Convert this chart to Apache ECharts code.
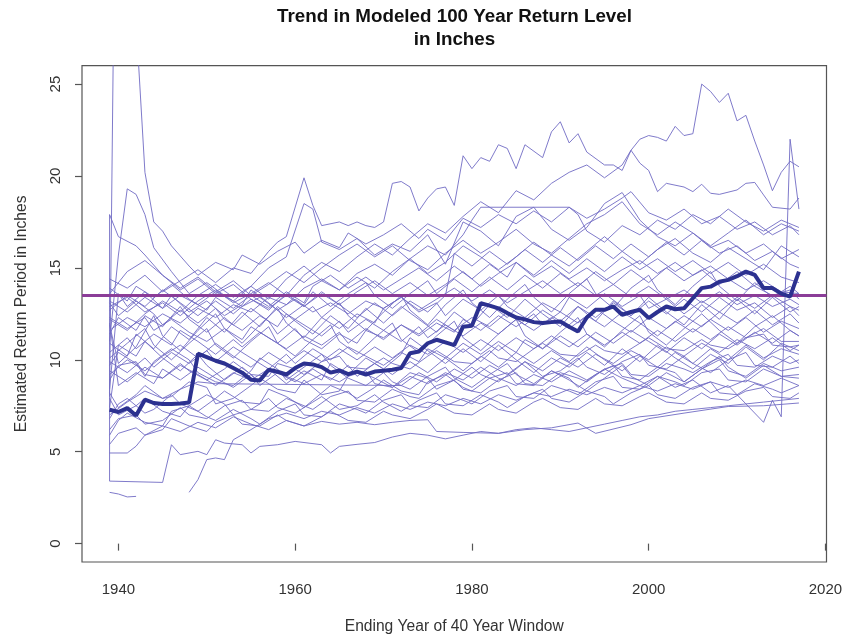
<!DOCTYPE html>
<html><head><meta charset="utf-8">
<script src="https://cdn.jsdelivr.net/npm/echarts@6/dist/echarts.min.js"></script>
<style>html,body{margin:0;padding:0;background:#fff;overflow:hidden}#c{width:842px;height:636px}</style>
</head><body><div id="c"></div>
<script>
const xTicks = [1940, 1960, 1980, 2000, 2020];
const yTicks = [0, 5, 10, 15, 20, 25];
const thresholdValue = 13.53;
const years = [1939,1940,1941,1942,1943,1944,1945,1946,1947,1948,1949,1950,1951,1952,1953,1954,1955,1956,1957,1958,1959,1960,1961,1962,1963,1964,1965,1966,1967,1968,1969,1970,1971,1972,1973,1974,1975,1976,1977,1978,1979,1980,1981,1982,1983,1984,1985,1986,1987,1988,1989,1990,1991,1992,1993,1994,1995,1996,1997,1998,1999,2000,2001,2002,2003,2004,2005,2006,2007,2008,2009,2010,2011,2012,2013,2014,2015,2016,2017];
const meanValues = [7.28,7.16,7.37,6.97,7.83,7.65,7.6,7.6,7.62,7.68,10.33,10.15,9.95,9.8,9.55,9.3,8.92,8.88,9.46,9.35,9.2,9.55,9.8,9.75,9.6,9.3,9.42,9.22,9.36,9.2,9.36,9.4,9.46,9.55,10.36,10.45,10.9,11.09,10.95,10.8,11.8,11.85,13.08,12.95,12.8,12.54,12.3,12.2,12.05,12.0,12.05,12.08,11.8,11.54,12.3,12.72,12.72,12.9,12.45,12.6,12.72,12.27,12.6,12.9,12.75,12.8,13.35,13.9,13.98,14.25,14.35,14.55,14.8,14.62,13.9,13.9,13.6,13.44,14.8];

const t01 = [[1939,8.0],[1940,53],[1941,40],[1942,28.4],[1943,20.2],[1944,17.5],[1945,17.0],[1946,16.2],[1948,15.1],[1949,14.6],[1951,15.3],[1953,14.9],[1954,15.7],[1956,15.2],[1958,15.9],[1960,16.4],[1961,15.8],[1963,16.5],[1965,16.1],[1966,16.9],[1968,16.3],[1970,16.8],[1972,17.4],[1974,16.6],[1975,17.1],[1977,16.5],[1979,17.7],[1981,17.2],[1983,17.9],[1985,17.4],[1987,18.1],[1989,17.5],[1991,18.3],[1993,17.7],[1995,18.2],[1997,18.8],[1998,19.15],[2000,18.0],[2002,17.6],[2004,18.2],[2006,17.4],[2008,17.8],[2010,17.1],[2012,17.5],[2014,16.8],[2016,17.3],[2017,16.8]];
const t02 = [[1939,14.4],[1941,13.9],[1943,14.6],[1945,13.7],[1947,14.3],[1949,14.9],[1951,14.2],[1953,15.0],[1955,14.7],[1957,15.9],[1958,16.4],[1959,16.7],[1961,19.9],[1962,18.4],[1963,17.3],[1965,17.5],[1966,17.3],[1967,17.5],[1968,17.3],[1969,17.2],[1970,17.5],[1971,19.6],[1972,19.7],[1973,19.4],[1974,18.1],[1975,18.8],[1976,19.3],[1977,19.4],[1978,18.4],[1979,21.1],[1980,20.4],[1981,21.0],[1982,20.8],[1983,21.7],[1984,21.5],[1985,20.4],[1986,21.7],[1988,21.0],[1989,22.4],[1990,22.95],[1991,21.8],[1992,22.3],[1993,21.3],[1995,20.6],[1996,20.6],[1997,20.3],[1998,21.4],[1999,22.0],[2000,22.2],[2001,22.1],[2002,21.9],[2003,22.7],[2004,22.2],[2005,22.3],[2006,25.0],[2007,24.6],[2008,24.0],[2009,24.5],[2010,23.0],[2011,23.3],[2012,21.9],[2013,20.6],[2014,19.2],[2015,20.2],[2016,20.8],[2017,20.5]];
const t03 = [[1939,12.9],[1941,13.4],[1943,12.6],[1945,13.1],[1947,12.4],[1949,13.2],[1951,13.8],[1953,13.1],[1955,13.6],[1957,14.2],[1959,13.5],[1961,14.6],[1963,15.3],[1965,14.8],[1967,15.6],[1969,16.3],[1971,15.7],[1973,16.6],[1975,17.4],[1977,16.9],[1979,17.8],[1981,18.6],[1983,18.0],[1985,19.2],[1987,18.7],[1989,19.6],[1991,20.2],[1993,20.6],[1995,19.9],[1997,20.6],[1998,21.4],[1999,20.7],[2000,20.3],[2001,19.15],[2002,19.6],[2004,19.4],[2005,19.15],[2006,19.55],[2007,19.06],[2008,19.0],[2010,19.24],[2011,19.6],[2012,19.65],[2013,18.97],[2014,18.3],[2016,18.2],[2017,18.8]];
const t04 = [[1939,11.6],[1941,12.3],[1943,11.8],[1945,12.5],[1947,12.0],[1949,12.8],[1951,12.3],[1953,13.0],[1955,12.6],[1957,13.4],[1959,13.0],[1961,13.9],[1963,14.4],[1965,13.8],[1967,14.7],[1969,15.2],[1971,14.6],[1973,15.5],[1975,16.2],[1977,15.7],[1979,16.8],[1980,17.6],[1981,18.3],[1991,18.3],[1992,17.9],[1993,17.0],[1995,16.4],[1997,17.3],[1999,16.8],[2001,17.6],[2003,17.1],[2005,17.9],[2007,17.4],[2009,18.2],[2011,17.5],[2013,17.0],[2015,17.6],[2017,17.2]];
const t05 = [[1939,9.4],[1941,8.8],[1943,9.6],[1945,9.0],[1947,9.7],[1949,9.2],[1951,8.6],[1953,9.3],[1955,8.9],[1957,9.5],[1959,9.1],[1961,8.7],[1963,9.2],[1965,8.8],[1967,9.4],[1969,9.0],[1971,8.5],[1973,9.1],[1975,8.7],[1977,9.3],[1979,8.9],[1981,9.6],[1983,9.0],[1985,8.6],[1987,9.2],[1989,8.8],[1991,9.4],[1993,8.9],[1995,9.5],[1997,9.0],[1999,8.6],[2001,9.1],[2003,8.5],[2005,8.9],[2007,8.2],[2009,8.6],[2011,7.6],[2013,6.6],[2014,7.8],[2015,6.9],[2016,22.0],[2017,18.2]];
const t06 = [[1939,13.6],[1941,14.8],[1943,15.4],[1945,14.6],[1947,13.9],[1949,14.5],[1951,13.7],[1953,14.3],[1955,13.5],[1957,14.1],[1959,14.8],[1961,14.2],[1963,15.0],[1965,15.7],[1967,16.3],[1969,15.6],[1971,16.2],[1973,15.4],[1975,14.9],[1977,15.8],[1979,16.5],[1981,15.8],[1983,16.4],[1985,17.1],[1987,16.3],[1989,15.8],[1991,16.6],[1993,17.4],[1995,17.9],[1997,18.6],[1999,17.4],[2001,16.8],[2003,17.5],[2005,16.9],[2007,16.2],[2009,16.9],[2011,17.6],[2013,16.8],[2015,17.4],[2017,17.0]];
const t07 = [[1939,12.2],[1941,11.6],[1943,12.5],[1945,13.2],[1947,12.6],[1949,13.5],[1951,14.1],[1953,13.4],[1955,14.0],[1957,13.3],[1959,14.4],[1961,15.1],[1963,14.3],[1965,13.8],[1967,14.5],[1969,13.9],[1971,14.8],[1973,15.5],[1975,14.7],[1977,15.3],[1979,16.2],[1981,15.6],[1983,14.9],[1985,15.6],[1987,16.4],[1989,15.7],[1991,15.1],[1993,15.9],[1995,16.7],[1997,15.9],[1999,15.2],[2001,16.0],[2003,16.6],[2005,15.8],[2007,15.3],[2009,16.1],[2011,15.5],[2013,14.9],[2015,16.2],[2017,15.6]];
const t08 = [[1939,17.9],[1940,16.7],[1942,16.2],[1943,15.7],[1945,14.6],[1947,13.8],[1949,14.4],[1951,13.6],[1953,14.1],[1955,13.3],[1957,12.8],[1959,13.5],[1961,12.9],[1963,13.6],[1965,13.0],[1967,13.7],[1969,14.3],[1971,13.6],[1973,14.2],[1975,13.5],[1977,14.1],[1979,14.8],[1981,14.0],[1983,14.7],[1985,15.3],[1987,14.5],[1989,15.1],[1991,14.4],[1993,15.0],[1995,14.3],[1997,14.9],[1999,15.4],[2001,14.7],[2003,15.3],[2005,14.6],[2007,15.1],[2009,14.4],[2011,13.8],[2013,14.3],[2015,13.7],[2017,13.6]];
const t09 = [[1939,11.0],[1940,15.7],[1941,19.3],[1942,19.0],[1943,17.9],[1944,16.1],[1946,14.8],[1948,13.6],[1950,14.2],[1952,13.5],[1954,12.9],[1956,13.4],[1958,12.7],[1960,13.3],[1962,12.6],[1964,13.1],[1966,12.5],[1968,13.2],[1970,12.8],[1972,13.4],[1974,12.7],[1976,13.3],[1978,13.9],[1980,13.2],[1982,13.8],[1984,13.1],[1986,13.7],[1988,14.3],[1990,13.6],[1992,14.2],[1994,13.5],[1996,14.1],[1998,13.4],[2000,14.0],[2002,13.3],[2004,13.8],[2006,13.1],[2008,13.7],[2010,13.0],[2012,13.5],[2014,12.9],[2016,13.3],[2017,13.0]];
const t10 = [[1939,11.4],[1940,12.3],[1942,11.6],[1943,12.4],[1945,11.8],[1947,12.9],[1948,12.2],[1950,11.5],[1952,12.3],[1953,11.9],[1955,12.8],[1957,12.1],[1958,11.4],[1960,12.2],[1962,12.9],[1963,12.3],[1965,11.7],[1967,12.5],[1969,12.0],[1970,12.8],[1972,13.4],[1974,12.6],[1976,13.1],[1977,12.4],[1979,13.3],[1981,12.7],[1983,13.5],[1984,12.9],[1986,12.3],[1988,13.1],[1990,12.6],[1991,13.4],[1993,12.8],[1995,13.6],[1997,12.9],[1999,13.5],[2000,12.8],[2002,13.3],[2004,12.5],[2006,13.2],[2008,12.6],[2010,13.4],[2012,12.8],[2014,13.5],[2016,12.9],[2017,12.7]];
const t11 = [[1939,10.4],[1941,11.2],[1942,10.6],[1944,11.4],[1946,10.8],[1947,11.6],[1949,11.0],[1951,10.3],[1953,11.1],[1954,10.7],[1956,11.5],[1958,10.9],[1960,11.7],[1961,11.1],[1963,10.6],[1965,11.4],[1967,10.9],[1968,11.6],[1970,11.2],[1972,11.9],[1974,11.3],[1976,12.0],[1978,11.5],[1979,12.2],[1981,11.6],[1983,12.4],[1985,11.8],[1987,12.5],[1988,11.9],[1990,12.6],[1992,12.0],[1994,12.8],[1996,12.1],[1998,11.5],[2000,12.3],[2002,11.7],[2004,12.4],[2006,11.8],[2008,12.6],[2010,12.0],[2012,12.7],[2014,11.9],[2016,12.5],[2017,12.0]];
const t12 = [[1939,13.1],[1940,12.4],[1942,13.2],[1944,12.5],[1945,11.9],[1947,12.7],[1949,12.0],[1951,12.8],[1952,12.2],[1954,11.6],[1956,12.4],[1958,11.8],[1959,12.5],[1961,11.9],[1963,11.3],[1965,12.1],[1966,11.5],[1968,12.2],[1970,11.6],[1972,11.0],[1974,11.8],[1975,11.2],[1977,11.9],[1979,11.3],[1981,12.0],[1983,11.4],[1985,12.2],[1987,11.6],[1989,12.3],[1991,11.7],[1993,12.4],[1995,11.8],[1997,12.6],[1999,12.0],[2001,11.3],[2003,12.1],[2005,11.5],[2007,12.2],[2009,11.6],[2011,12.3],[2013,11.5],[2015,12.1],[2017,11.7]];
const t13 = [[1939,9.9],[1941,9.3],[1943,10.1],[1944,9.6],[1946,10.4],[1948,9.8],[1950,10.5],[1951,9.9],[1953,10.7],[1955,10.1],[1957,9.5],[1959,10.3],[1960,9.8],[1962,10.6],[1964,10.0],[1966,10.7],[1968,10.2],[1970,9.7],[1972,10.4],[1974,9.9],[1975,10.6],[1977,10.1],[1979,10.9],[1981,10.3],[1983,11.0],[1985,10.4],[1986,11.1],[1988,10.6],[1990,11.3],[1992,10.7],[1994,11.5],[1996,10.9],[1998,11.6],[2000,11.0],[2002,10.4],[2004,11.2],[2006,10.6],[2008,11.4],[2010,10.8],[2012,11.5],[2014,10.9],[2016,11.6],[2017,11.3]];
const t14 = [[1939,8.9],[1940,9.7],[1942,9.9],[1943,9.2],[1945,9.0],[1947,9.8],[1948,9.4],[1950,8.9],[1952,9.5],[1953,9.9],[1955,9.2],[1957,9.1],[1958,9.8],[1960,9.5],[1961,9.2],[1963,9.9],[1965,10.2],[1966,9.6],[1968,9.5],[1970,10.1],[1971,9.8],[1973,9.5],[1975,10.2],[1976,10.5],[1978,9.9],[1980,9.8],[1982,10.5],[1983,10.1],[1985,9.9],[1987,10.6],[1988,10.9],[1990,10.3],[1992,10.2],[1994,10.8],[1995,10.5],[1997,10.3],[1999,10.9],[2000,11.2],[2002,10.6],[2004,10.5],[2006,11.1],[2007,10.8],[2009,10.6],[2011,11.2],[2013,11.4],[2014,10.8],[2016,10.7],[2017,10.8]];
const t15 = [[1939,7.4],[1940,10.8],[1942,10.2],[1943,11.0],[1945,10.1],[1947,9.4],[1949,10.3],[1950,9.7],[1952,8.9],[1954,9.6],[1956,8.8],[1957,9.5],[1959,8.7],[1961,9.4],[1963,8.9],[1964,9.8],[1966,9.2],[1968,10.1],[1970,9.5],[1972,10.3],[1973,11.2],[1975,10.5],[1977,9.8],[1979,10.6],[1981,9.9],[1983,10.8],[1985,10.0],[1987,9.3],[1989,10.1],[1991,9.6],[1993,10.4],[1995,9.7],[1997,10.6],[1999,9.9],[2001,10.8],[2003,10.1],[2005,9.5],[2007,10.3],[2009,9.8],[2011,10.7],[2013,10.0],[2015,10.9],[2017,10.5]];
const t16 = [[1939,12.0],[1940,8.6],[1942,9.3],[1944,8.7],[1945,9.5],[1947,8.9],[1949,9.6],[1951,9.0],[1953,8.5],[1955,9.2],[1956,8.6],[1958,9.3],[1960,8.8],[1962,9.5],[1964,8.9],[1966,9.7],[1967,9.1],[1969,9.8],[1971,9.2],[1973,9.9],[1975,9.3],[1977,10.1],[1979,9.4],[1981,10.2],[1983,9.6],[1985,10.4],[1987,9.8],[1989,10.5],[1991,9.9],[1993,10.7],[1995,10.0],[1997,9.4],[1999,10.2],[2001,9.6],[2003,10.4],[2005,9.8],[2007,10.6],[2009,10.0],[2011,10.8],[2013,10.1],[2015,10.6],[2017,10.3]];
const t17 = [[1939,13.2],[1941,12.6],[1943,13.4],[1945,12.8],[1947,13.5],[1949,13.0],[1951,13.7],[1953,13.2],[1955,14.0],[1957,15.0],[1959,15.6],[1961,18.5],[1962,18.2],[1963,16.4],[1965,16.0],[1967,16.6],[1969,15.7],[1971,16.3],[1973,15.9],[1975,16.8],[1977,15.2],[1979,17.5],[1981,17.0],[1983,16.2],[1985,17.8],[1987,18.3],[1989,17.1],[1991,16.5],[1993,17.2],[1995,18.5],[1997,19.1],[1999,17.6],[2001,16.7],[2003,16.2],[2005,16.9],[2007,16.1],[2009,16.5],[2011,15.8],[2013,16.3],[2015,15.5],[2017,16.0]];
const t18 = [[1939,8.2],[1940,7.4],[1942,8.1],[1943,8.6],[1945,7.9],[1946,8.0],[1948,8.8],[1950,8.5],[1951,7.6],[1953,7.9],[1955,8.6],[1956,9.0],[1958,8.4],[1960,8.2],[1961,8.9],[1963,8.1],[1965,8.3],[1966,9.1],[1968,9.4],[1969,8.7],[1971,8.5],[1973,9.3],[1975,9.0],[1976,8.4],[1978,8.9],[1980,9.6],[1981,9.2],[1983,8.8],[1985,9.5],[1986,9.9],[1988,9.1],[1990,9.4],[1992,10.1],[1993,9.6],[1995,9.2],[1997,9.9],[1999,10.3],[2000,9.7],[2002,9.5],[2004,10.2],[2005,9.8],[2007,9.3],[2009,10.0],[2011,10.4],[2012,9.7],[2014,9.6],[2016,10.2],[2017,9.8]];
const t19 = [[1939,6.8],[1940,7.6],[1941,7.9],[1943,7.1],[1944,7.3],[1946,8.1],[1947,7.6],[1949,7.2],[1951,7.9],[1952,8.3],[1954,7.7],[1956,7.6],[1957,8.4],[1959,8.0],[1961,7.4],[1962,7.8],[1964,8.6],[1966,8.2],[1967,7.9],[1969,8.5],[1970,8.9],[1972,8.3],[1974,8.1],[1975,8.8],[1977,9.2],[1979,8.5],[1980,8.3],[1982,9.0],[1984,9.3],[1985,8.7],[1987,8.6],[1989,9.4],[1991,9.0],[1992,8.5],[1994,9.2],[1996,9.7],[1997,9.1],[1999,8.9],[2001,9.6],[2003,9.3],[2004,8.8],[2006,9.5],[2008,10.0],[2009,9.4],[2011,9.1],[2013,9.8],[2015,9.4],[2017,9.6]];
const t20 = [[1939,9.7],[1940,10.4],[1942,9.8],[1943,9.1],[1944,9.9],[1946,10.6],[1948,10.0],[1949,9.3],[1951,8.8],[1953,8.6],[1955,9.4],[1956,10.1],[1958,9.5],[1959,8.9],[1961,9.6],[1963,10.3],[1964,9.7],[1966,9.0],[1968,8.6],[1970,9.3],[1971,8.8],[1973,8.4],[1975,9.1],[1977,9.6],[1978,9.0],[1980,8.5],[1982,9.2],[1984,9.8],[1985,9.2],[1987,8.7],[1989,9.4],[1991,8.9],[1993,8.3],[1995,9.0],[1997,9.7],[1998,9.1],[2000,8.6],[2002,9.3],[2004,8.8],[2006,9.5],[2008,10.2],[2009,9.6],[2011,9.0],[2013,9.7],[2015,9.1],[2017,9.2]];
const t21 = [[1939,7.9],[1940,7.0],[1942,7.5],[1943,7.9],[1945,7.2],[1947,6.9],[1948,7.5],[1950,8.1],[1952,7.6],[1953,7.0],[1955,7.3],[1957,7.9],[1958,7.4],[1960,7.1],[1962,7.7],[1963,8.0],[1965,7.3],[1967,7.5],[1969,8.1],[1970,7.7],[1972,7.2],[1974,7.8],[1976,8.2],[1977,7.6],[1979,7.5],[1981,8.1],[1983,7.7],[1984,7.4],[1986,8.0],[1988,8.4],[1989,7.9],[1991,7.7],[1993,8.3],[1995,8.0],[1996,7.6],[1998,8.2],[2000,8.6],[2001,8.1],[2003,7.9],[2005,8.5],[2007,8.8],[2008,8.2],[2010,8.1],[2012,8.7],[2014,8.4],[2015,8.2],[2017,8.6]];
const t22 = [[1939,8.4],[1940,13.6],[1941,12.9],[1943,13.7],[1945,12.8],[1946,13.5],[1948,12.6],[1950,13.2],[1952,12.4],[1954,13.0],[1955,13.8],[1957,13.1],[1959,12.3],[1961,13.0],[1962,13.7],[1964,12.9],[1966,13.6],[1968,14.2],[1969,13.5],[1971,12.8],[1973,13.6],[1975,14.3],[1976,13.6],[1978,14.4],[1980,13.7],[1982,14.5],[1984,13.8],[1986,14.6],[1988,13.9],[1990,14.7],[1992,14.0],[1994,14.8],[1996,14.1],[1998,14.9],[2000,14.2],[2002,15.0],[2004,14.3],[2006,14.9],[2008,14.1],[2010,14.8],[2012,14.0],[2014,13.5],[2016,13.8],[2017,13.3]];
const t23 = [[1939,13.9],[1941,13.2],[1942,14.0],[1944,13.4],[1946,14.1],[1948,13.3],[1950,12.7],[1951,13.4],[1953,12.8],[1955,13.5],[1957,12.9],[1959,13.7],[1961,13.1],[1962,14.0],[1964,14.6],[1966,13.9],[1968,14.5],[1970,13.8],[1972,14.4],[1974,15.0],[1976,14.3],[1978,15.1],[1980,14.4],[1982,15.2],[1984,14.5],[1985,15.3],[1987,14.6],[1989,15.4],[1991,14.7],[1993,15.5],[1995,14.8],[1997,15.6],[1999,14.9],[2001,15.5],[2003,14.8],[2005,15.4],[2007,14.7],[2009,15.3],[2011,14.6],[2013,15.2],[2015,14.5],[2017,14.2]];
const t24 = [[1939,12.3],[1941,11.7],[1943,12.3],[1944,11.6],[1946,12.2],[1948,11.5],[1950,11.0],[1952,11.7],[1954,11.1],[1955,11.8],[1957,11.2],[1959,10.6],[1961,11.3],[1963,10.8],[1965,11.5],[1966,10.9],[1968,11.7],[1970,11.1],[1972,11.9],[1974,11.4],[1976,12.2],[1978,11.6],[1980,12.3],[1982,11.8],[1984,12.6],[1986,11.9],[1988,12.7],[1990,12.1],[1992,12.9],[1994,12.3],[1996,13.1],[1998,12.4],[2000,13.2],[2002,12.5],[2004,13.3],[2006,12.6],[2008,13.4],[2010,12.7],[2012,13.1],[2014,12.3],[2016,12.9],[2017,12.4]];
const t25 = [[1939,9.2],[1941,10.0],[1943,9.4],[1945,10.2],[1947,10.8],[1949,10.1],[1951,10.9],[1953,10.2],[1955,9.6],[1957,10.4],[1959,9.8],[1961,10.5],[1963,9.9],[1965,10.6],[1967,10.0],[1969,10.7],[1971,10.1],[1973,10.8],[1975,10.3],[1977,11.0],[1979,10.4],[1981,11.1],[1983,10.5],[1985,11.2],[1987,10.6],[1989,11.3],[1991,10.7],[1993,11.4],[1995,10.8],[1997,11.5],[1999,10.9],[2001,11.6],[2003,11.0],[2005,11.7],[2007,11.1],[2009,11.8],[2011,11.2],[2013,11.7],[2015,11.0],[2017,11.0]];
const t26 = [[1939,6.2],[1940,6.8],[1942,7.0],[1943,6.5],[1945,6.7],[1947,7.4],[1948,7.0],[1950,6.8],[1952,7.5],[1954,7.8],[1955,7.3],[1957,7.2],[1959,7.9],[1961,7.5],[1962,7.3],[1964,8.0],[1966,8.3],[1967,7.8],[1969,7.7],[1971,8.4],[1973,8.0],[1974,7.9],[1976,8.6],[1978,8.9],[1979,8.4],[1981,8.2],[1983,8.9],[1985,9.3],[1986,8.7],[1988,8.6],[1990,9.3],[1992,9.0],[1993,8.8],[1995,9.5],[1997,9.8],[1998,9.2],[2000,9.1],[2002,9.8],[2004,9.5],[2005,9.3],[2007,9.9],[2009,10.3],[2010,9.7],[2012,9.6],[2014,10.2],[2016,9.8],[2017,10.0]];
const t27 = [[1939,7.0],[1941,7.7],[1943,8.3],[1945,7.9],[1947,8.4],[1949,8.8],[1951,8.7],[1972,8.6],[1974,9.3],[1976,8.8],[1978,9.5],[1980,9.0],[1982,9.7],[1984,9.2],[1986,9.9],[1988,9.4],[1990,10.1],[1992,9.6],[1994,10.3],[1996,9.8],[1998,10.5],[2000,10.0],[2002,10.7],[2004,10.2],[2006,10.9],[2008,10.4],[2010,11.1],[2012,10.6],[2014,11.2],[2016,10.5],[2017,10.8]];
const t28 = [[1939,10.9],[1941,10.2],[1942,11.4],[1944,10.6],[1946,11.8],[1948,11.1],[1950,12.3],[1952,11.5],[1954,12.6],[1956,11.8],[1958,12.9],[1960,12.1],[1962,11.4],[1964,12.4],[1966,11.7],[1968,12.8],[1970,12.0],[1972,12.9],[1974,12.2],[1976,11.5],[1978,12.6],[1980,11.9],[1982,13.0],[1984,12.3],[1986,13.3],[1988,12.5],[1990,11.8],[1992,12.9],[1994,12.1],[1996,13.2],[1998,12.4],[2000,13.4],[2002,12.6],[2004,11.9],[2006,13.0],[2008,12.2],[2010,13.3],[2012,12.5],[2014,13.4],[2016,12.6],[2017,12.9]];
const t29 = [[1939,5.9],[1940,6.7],[1941,7.1],[1943,6.6],[1945,6.4],[1946,7.2],[1948,7.5],[1950,6.9],[1951,6.7],[1953,7.3],[1955,6.8],[1956,6.5],[1958,7.2],[1960,7.6],[1961,7.0],[1963,6.9],[1965,7.6],[1967,7.3],[1968,7.1],[1970,7.8],[1972,8.1],[1973,7.5],[1975,7.4],[1977,8.1],[1979,7.8],[1980,7.6],[1982,8.3],[1984,8.6],[1985,8.0],[1987,7.9],[1989,8.6],[1991,8.3],[1992,8.1],[1994,8.8],[1996,9.1],[1997,8.5],[1999,8.4],[2001,9.1],[2003,8.8],[2004,8.6],[2006,9.3],[2008,9.5],[2009,8.9],[2011,8.8],[2013,9.5],[2015,9.1],[2017,9.0]];
const t30 = [[1939,5.4],[1940,6.0],[1942,6.3],[1943,5.9],[1945,6.2],[1946,6.8],[1948,6.4],[1950,6.1],[1951,6.6],[1953,7.0],[1954,6.5],[1956,6.4],[1958,7.0],[1959,6.7],[1961,6.4],[1963,6.9],[1964,7.2],[1966,6.7],[1968,6.6],[1970,7.2],[1971,7.0],[1973,6.8],[1975,7.3],[1976,7.6],[1978,7.1],[1980,7.0],[1982,7.6],[1983,7.3],[1985,7.1],[1987,7.7],[1988,7.9],[1990,7.4],[1992,7.3],[1994,7.9],[1995,7.6],[1997,7.5],[1999,8.0],[2000,8.2],[2002,7.7],[2004,7.6],[2006,8.2],[2007,7.9],[2009,7.8],[2011,8.3],[2013,8.5],[2014,8.0],[2016,7.9],[2017,8.2]];
const t31 = [[1939,11.9],[1940,9.8],[1942,10.7],[1944,12.4],[1945,11.3],[1947,10.5],[1949,11.6],[1951,12.5],[1952,11.7],[1954,10.9],[1956,11.9],[1958,12.8],[1959,12.0],[1961,11.2],[1963,12.3],[1965,13.1],[1966,12.4],[1968,11.6],[1970,12.6],[1972,13.5],[1973,12.7],[1975,11.9],[1977,13.0],[1979,13.8],[1980,13.1],[1982,12.3],[1984,13.3],[1986,14.1],[1987,13.4],[1989,12.6],[1991,13.6],[1993,14.4],[1994,13.6],[1996,12.8],[1998,13.9],[2000,14.6],[2001,13.8],[2003,13.0],[2005,14.0],[2007,14.8],[2008,14.0],[2010,13.2],[2012,14.2],[2014,13.4],[2016,14.0],[2017,13.6]];
const t32 = [[1939,10.1],[1941,10.9],[1943,11.7],[1944,10.8],[1946,10.0],[1948,10.9],[1950,11.7],[1951,10.8],[1953,10.1],[1955,11.0],[1957,11.8],[1958,10.9],[1960,10.2],[1962,11.1],[1964,11.9],[1965,11.0],[1967,10.3],[1969,11.2],[1971,12.0],[1972,11.1],[1974,10.4],[1976,11.3],[1978,12.1],[1979,11.2],[1981,10.5],[1983,11.4],[1985,12.2],[1986,11.3],[1988,10.6],[1990,11.5],[1992,12.3],[1993,11.4],[1995,10.7],[1997,11.6],[1999,12.4],[2000,11.5],[2002,10.8],[2004,11.7],[2006,12.5],[2008,11.6],[2010,10.9],[2012,11.8],[2014,12.4],[2016,11.6],[2017,11.3]];
const t33 = [[1939,12.7],[1941,13.5],[1943,12.9],[1945,13.8],[1947,13.1],[1949,12.4],[1951,13.2],[1953,12.5],[1955,13.3],[1957,12.7],[1959,13.6],[1961,12.9],[1963,13.7],[1965,13.0],[1967,12.3],[1969,13.1],[1971,12.4],[1973,13.2],[1975,12.6],[1977,13.5],[1978,15.8],[1980,15.1],[1982,15.9],[1984,15.2],[1986,16.0],[1988,15.3],[1990,16.1],[1992,15.4],[1994,16.2],[1996,15.5],[1998,16.3],[2000,15.6],[2002,16.4],[2004,15.7],[2006,16.5],[2008,15.8],[2010,16.2],[2012,15.4],[2014,15.9],[2016,15.2],[2017,15.0]];
const t34 = [[1939,17.9],[1939,3.4],[1945,3.33],[1946,5.38],[1947,4.84],[1949,5.02],[1950,4.84],[1951,5.65],[1952,5.47],[1954,5.38],[1955,4.93],[1956,5.29],[1958,5.38],[1960,5.56],[1963,5.38],[1964,4.93],[1965,5.29],[1967,5.4],[1969,5.5],[1971,5.8],[1973,6.0],[1975,5.9],[1977,5.7],[1979,5.9],[1981,6.1],[1983,6.0],[1985,6.2],[1987,6.3],[1989,6.2],[1991,6.1],[1993,6.3],[1995,6.5],[1997,6.7],[1999,6.9],[2001,7.0],[2003,7.2],[2005,7.3],[2007,7.4],[2009,7.5],[2011,7.6],[2013,7.7],[2015,7.8],[2017,7.9]];
const t35 = [[1939,4.93],[1941,4.93],[1942,5.3],[1943,5.9],[1945,6.4],[1947,6.1],[1949,6.6],[1951,6.3],[1953,6.9],[1955,6.5],[1957,6.2],[1959,6.7],[1961,6.4],[1963,6.65],[1965,6.5],[1967,6.6],[1969,6.47],[1971,6.6],[1973,6.7],[1975,6.74],[1976,6.1],[1979,6.05],[1983,6.0],[1986,6.2],[1989,6.3],[1992,6.56],[1994,6.0],[1998,6.47],[2000,6.8],[2004,7.1],[2009,7.46],[2013,7.5],[2017,7.65]];
const t36 = [[1939,2.79],[1940,2.7],[1941,2.54],[1942,2.57]];
const t37 = [[1948,2.79],[1949,3.48],[1950,4.57],[1951,4.66],[1952,4.57],[1953,5.65],[1955,6.2],[1957,6.8],[1959,7.1],[1961,6.8],[1963,7.2],[1965,7.0],[1967,7.4],[1969,7.1],[1971,7.6],[1973,7.3],[1975,7.7],[1977,7.5],[1979,7.9],[1981,7.6],[1983,8.1],[1985,7.8],[1987,8.2],[1989,8.0],[1991,8.4],[1993,8.1],[1995,8.5],[1997,8.2],[1999,8.6],[2001,8.3],[2003,8.7],[2005,8.4],[2007,8.8],[2009,8.5],[2011,8.9],[2013,8.6],[2015,9.0],[2017,8.6]];

const traces = [t01,t02,t03,t04,t05,t06,t07,t08,t09,t10,t11,t12,t13,t14,t15,t16,t17,t18,t19,t20,t21,t22,t23,t24,t25,t26,t27,t28,t29,t30,t31,t32,t33,t34,t35,t36,t37];

const FONT = "'Liberation Sans', Arial, Helvetica, sans-serif";
const TEXT = '#333333';

const series = traces.map((d) => ({
  type: 'line', data: d, showSymbol: false, symbol: 'none', silent: true, z: 2,
  lineStyle: { color: '#716cc4', width: 1, opacity: 0.9 }, animation: false
}));
series.push({
  type: 'line', data: years.map((y, i) => [y, meanValues[i]]), showSymbol: false, symbol: 'none',
  silent: true, z: 5, lineStyle: { color: '#2c3190', width: 4 }, animation: false,
  markLine: { silent: true, symbol: 'none', label: { show: false },
    lineStyle: { color: '#8b3d98', width: 3, type: 'solid' }, data: [{ yAxis: thresholdValue }] }
});

const chart = echarts.init(document.getElementById('c'), null, { renderer: 'canvas' });
chart.setOption({
  animation: false,
  backgroundColor: '#ffffff',
  graphic: [
    { type: 'text', x: 454.5, y: 17, silent: true,
      style: { text: 'Trend in Modeled 100 Year Return Level', textAlign: 'center', textVerticalAlign: 'middle',
        fontFamily: FONT, fontSize: 18.8, fontWeight: 'bold', fill: '#111' } },
    { type: 'text', x: 454.5, y: 40, silent: true,
      style: { text: 'in Inches', textAlign: 'center', textVerticalAlign: 'middle',
        fontFamily: FONT, fontSize: 18.8, fontWeight: 'bold', fill: '#111' } }
  ],
  grid: { left: 82, right: 15.5, top: 65.7, bottom: 74, show: true, borderColor: '#555', borderWidth: 1.2,
    backgroundColor: 'transparent', outerBoundsMode: 'none', containLabel: false },
  xAxis: {
    type: 'value', min: 1935.88, max: 2020.12,
    name: 'Ending Year of 40 Year Window', nameLocation: 'middle', nameGap: 57,
    nameTextStyle: { fontFamily: FONT, fontSize: 15.6, color: TEXT },
    axisLine: { show: false },
    splitLine: { show: false },
    axisTick: { show: true, inside: false, length: 7, customValues: xTicks, lineStyle: { color: '#555', width: 1.2 } },
    axisLabel: { customValues: xTicks, margin: 20, fontFamily: FONT, fontSize: 15, color: TEXT,
      formatter: (v) => String(v) }
  },
  yAxis: {
    type: 'value', min: -1, max: 26,
    name: 'Estimated Return Period in Inches', nameLocation: 'middle', nameGap: 52, nameRotate: 90,
    nameTextStyle: { fontFamily: FONT, fontSize: 15.6, color: TEXT },
    axisLine: { show: false },
    splitLine: { show: false },
    axisTick: { show: true, inside: false, length: 7, customValues: yTicks, lineStyle: { color: '#555', width: 1.2 } },
    axisLabel: { customValues: yTicks, rotate: 90, margin: 19, fontFamily: FONT, fontSize: 15, color: TEXT,
      align: 'center', verticalAlign: 'bottom', formatter: (v) => String(v) }
  },
  series: series
});
</script>
</body></html>
